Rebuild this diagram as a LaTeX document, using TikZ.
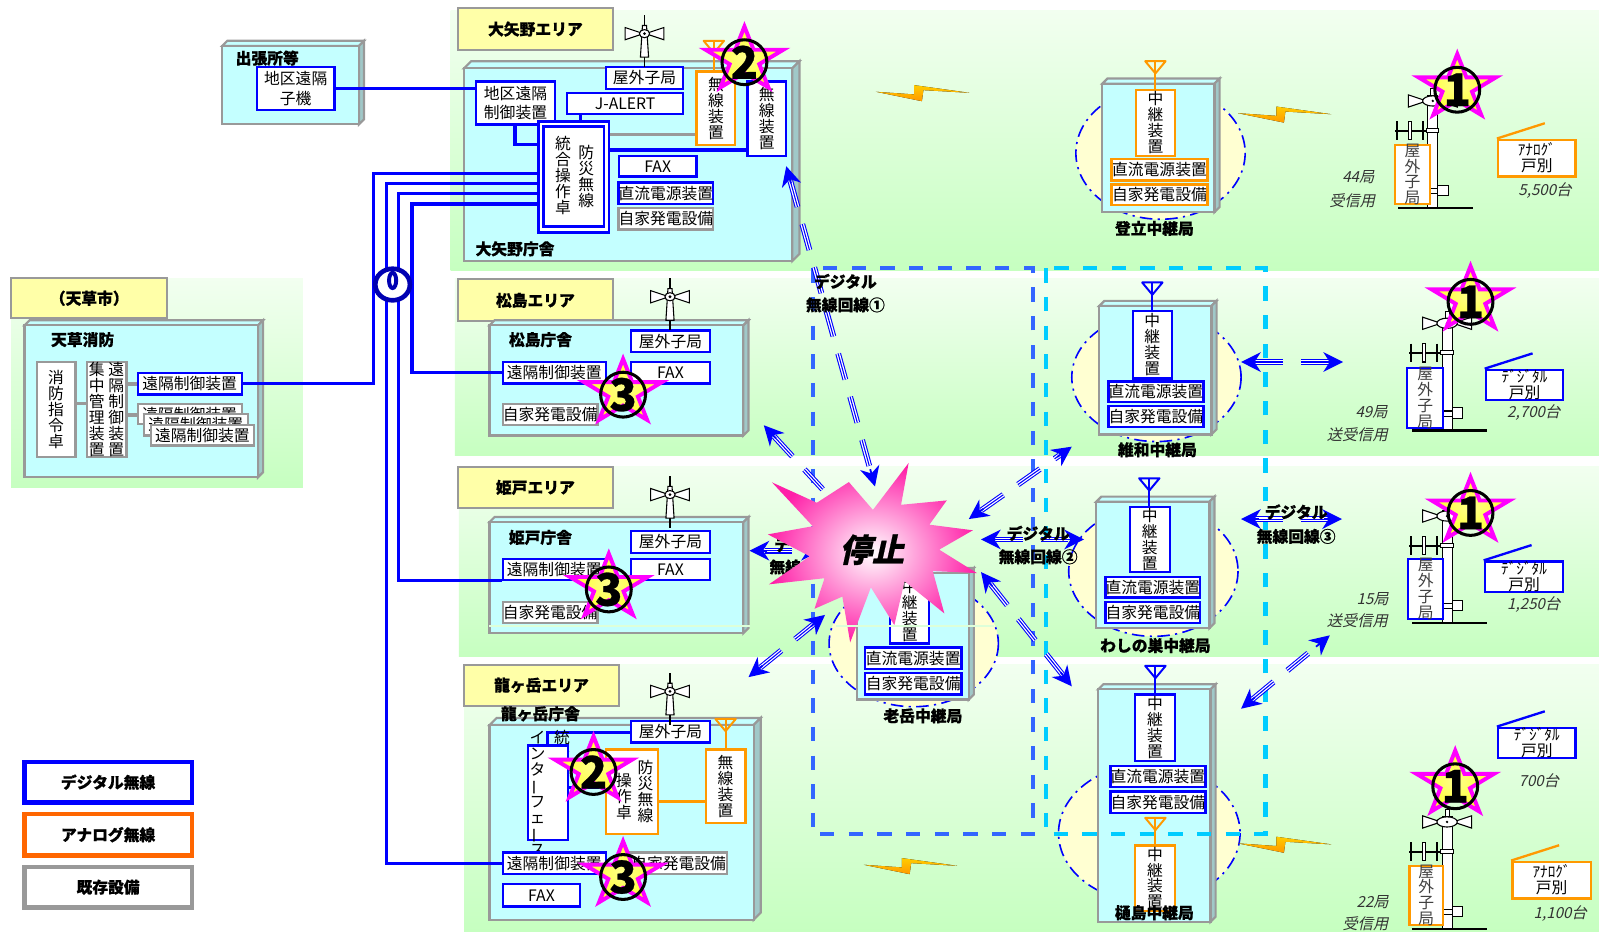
\documentclass[tikz,border=0pt]{standalone}
\usepackage{fontspec}
\usepackage{graphicx}
\setmainfont{Noto Sans CJK JP}
\newfontfamily\slantfont[FakeSlant=0.22]{Noto Sans CJK JP}
\newfontfamily\heavyfont[BoldFeatures={FakeBold=0.6}]{Noto Sans CJK JP}
\newfontfamily\heavyslant[FakeSlant=0.22,BoldFeatures={FakeBold=0.6}]{Noto Sans CJK JP}
\usetikzlibrary{arrows.meta,calc,shapes.geometric}
\definecolor{linkblue}{HTML}{0000FF}
\definecolor{anaorange}{HTML}{FF9900}
\definecolor{legendorange}{HTML}{FF6600}
\definecolor{oldgray}{HTML}{999999}
\definecolor{hallcyan}{HTML}{C4FFFF}
\definecolor{sidecyan}{HTML}{A0C8C8}
\definecolor{paneltop}{HTML}{F2FFF0}
\definecolor{panelbottom}{HTML}{C6FFC0}
\definecolor{tagyellow}{HTML}{FFFFA8}
\definecolor{zonecream}{HTML}{FFFFD2}
\definecolor{burstpink}{HTML}{FF20A8}
\definecolor{dashblue}{HTML}{3366FF}
\definecolor{dashcyan}{HTML}{00CCFF}
\definecolor{starpink}{HTML}{FF00FF}
\newcommand\boxfont{\fontsize{8.8}{8.9}\selectfont}
\tikzset{
  panel/.style={top color=paneltop, bottom color=panelbottom, draw=none},
  tagbox/.style={draw=oldgray, line width=1.2pt, fill=tagyellow, inner sep=0pt, font=\boxfont\heavyfont\bfseries},
  head/.style={font=\boxfont\heavyfont\bfseries, inner sep=0pt},
  bluebox/.style={draw=linkblue, line width=1.3pt, fill=white, inner sep=0pt, align=center, font=\boxfont},
  orangebox/.style={draw=anaorange, line width=1.3pt, fill=white, inner sep=0pt, align=center, font=\boxfont},
  graybox/.style={draw=oldgray, line width=1.3pt, fill=white, inner sep=0pt, align=center, font=\boxfont},
  vtext/.style={inner sep=0pt, align=center, font=\boxfont},
  digline/.style={draw=linkblue, line width=1.8pt},
  oldline/.style={draw=oldgray, line width=1.8pt},
  analine/.style={draw=anaorange, line width=1.8pt},
  zone/.style={draw=linkblue, fill=zonecream, line width=0.9pt, dash pattern=on 7pt off 3pt on 1.2pt off 3pt},
  radioline/.style={draw=linkblue, line width=3.2pt, dash pattern=on 15pt off 10pt,
    postaction={draw=white, line width=2pt}, postaction={draw=linkblue, line width=0.6pt}},
  radiotip/.style={draw=linkblue, line width=1pt, -{Stealth[length=11pt, width=11pt, inset=3.5pt]}},
  areadash/.style={line width=2.3pt, dash pattern=on 8pt off 8pt},
  badgestar/.style={draw=starpink, line width=2.2pt, inner color=white!55!yellow, outer color=yellow!85!white},
  badgering/.style={circle, draw=black, line width=1.7pt, minimum size=0.88cm, inner sep=0pt, font=\fontsize{25}{25}\selectfont\heavyfont\bfseries},
  count/.style={inner sep=0pt, align=center, font=\fontsize{8.5}{12.5}\selectfont\slantfont, text=black!80},
}
% box given by its corners, in picture units
\newcommand\partbox[7][]{%
  \pgfmathsetmacro\boxw{(#5-#3)*0.02}\pgfmathsetmacro\boxh{(#6-#4)*0.02}%
  \node[#1, minimum width=\boxw cm, minimum height=\boxh cm] (#2) at ({(#3+#5)/2},{(#4+#6)/2}) {#7};}
% hall with bevelled top and right side
\newcommand\bevelhall[5]{%
  \filldraw[draw=oldgray, line width=1.2pt, fill=hallcyan] (#1,{#2+#5}) -- ({#1+#5},#2) -- (#3,#2) -- ({#3-#5},{#2+#5}) -- cycle;
  \filldraw[draw=oldgray, line width=1.2pt, fill=sidecyan] ({#3-#5},{#2+#5}) -- (#3,#2) -- (#3,{#4-#5}) -- ({#3-#5},#4) -- cycle;
  \filldraw[draw=oldgray, line width=1.2pt, fill=hallcyan] (#1,{#2+#5}) rectangle ({#3-#5},#4);}
\newcommand\antenna[4]{%
  \draw[#1, line width=1.1pt] (#2,#3) -- (#2,#3 |- #4.north);
  \draw[#1, line width=1.1pt, line join=round] ({#2-10},#3) -- ({#2+10},#3) -- (#2,{#3+12}) -- cycle;}
\newcommand\hornmast[2]{%
  \begin{scope}[shift={(#1,#2)}, line width=0.6pt]
    \draw (0,-18) -- (0,33);
    \filldraw[fill=white] (-2,-8) -- (2,-8) -- (4,23) -- (-4,23) -- cycle;
    \filldraw[fill=white] (-19,-6) -- (-4,-1) -- (-4,1) -- (-19,6) -- cycle;
    \filldraw[fill=white] (19,-6) -- (4,-1) -- (4,1) -- (19,6) -- cycle;
    \filldraw[fill=white] (0,0) ellipse (5 and 4);
    \fill (0,0) circle (1.5);
  \end{scope}}
\newcommand\polemast[2]{%
  \begin{scope}[shift={(#1,#2)}]
    \filldraw[fill=white, line width=0.5pt] (-2,-117) rectangle (2,-110);
    \filldraw[fill=white, line width=0.5pt] (-5,-110) rectangle (5,0);
    \filldraw[fill=white, line width=0.6pt] (-24,-111) -- (-9,-106) -- (-9,-104) -- (-24,-99) -- cycle;
    \filldraw[fill=white, line width=0.6pt] (24,-111) -- (9,-106) -- (9,-104) -- (24,-99) -- cycle;
    \filldraw[fill=white, line width=0.6pt] (0,-105) ellipse (10 and 5);
    \fill (0,-105) circle (1.3);
    \draw[line width=1.1pt] (-37,-76) -- (-5,-76);
    \draw[line width=1.1pt] (-35,-85) -- (-35,-67);
    \draw[line width=1.1pt] (-10,-85) -- (-10,-67);
    \filldraw[fill=white, line width=0.6pt] (-24,-85) rectangle (-21,-67);
    \filldraw[fill=white, line width=0.6pt] (-6,-78) rectangle (6,-74);
    \filldraw[fill=white, line width=0.6pt] (5,-22) rectangle (15,-12);
    \filldraw[fill=white, line width=0.6pt] (-4,-19) rectangle (5,-14);
    \draw[line width=1.5pt] (-34,0) -- (39,0);
  \end{scope}}
\newcommand\polebox[6]{%
  \partbox[#1]{#2}{#3}{#4}{#5}{#6}{}
  \node[vtext, text=black!75] at (#2) {屋\\外\\子\\局};}
\newcommand\homebox[7]{%
  \partbox[#1]{#2}{#3}{#4}{#5}{#6}{\fontsize{8.5}{10.2}\selectfont #7}
  \draw[#1, fill=none] (#2.north west) -- ++(47,-15);}
\newcommand\bolt[2]{%
  \fill[top color=yellow!60!orange, bottom color=anaorange, shift={(#1,#2)}] (0,0) -- (37.5,2.6) -- (37.5,-6.5) -- (91.5,1) -- (46.5,-1.6) -- (45,9.2) -- cycle;}
\newcommand\radiolink[2]{%
  \path[radioline] ($(#1)!0.3cm!(#2)$) -- ($(#2)!0.3cm!(#1)$);
  \draw[radiotip] ($(#1)!0.35cm!(#2)$) -- (#1);
  \draw[radiotip] ($(#2)!0.35cm!(#1)$) -- (#2);}
\newcommand\starbadge[4]{%
  \shadedraw[badgestar, miter limit=6, shift={(#2,{#3-2})}, xscale=40, yscale=-33]
    (0,1) -- (.2245,.309) -- (.951,.309) -- (.363,-.118) -- (.588,-.809) -- (0,-.382)
    -- (-.588,-.809) -- (-.363,-.118) -- (-.951,.309) -- (-.2245,.309) -- cycle;
  \node[badgering] (#1) at (#2,#3) {#4};}
\begin{document}
\begin{tikzpicture}[x=0.02cm, y=-0.02cm]
  \useasboundingbox (0,0) rectangle (1568,913);
  \fill[white] (0,0) rectangle (1568,913);
  % area panels
  \path[panel] (11,273) rectangle (297,478);
  \path[panel] (442,10) rectangle (1568,265);
  \path[panel] (446,273) rectangle (1568,447);
  \path[panel] (450,457) rectangle (1568,644);
  \path[panel] (455,652) rectangle (1568,913);
  \partbox[tagbox]{tagAmakusa}{11}{273}{164}{312}{（天草市）}
  \partbox[tagbox]{tagOyano}{449}{8}{601}{49}{大矢野エリア}
  \partbox[tagbox]{tagMatsushima}{449}{274}{601}{315}{松島エリア}
  \partbox[tagbox]{tagHimedo}{449}{458}{601}{498}{姫戸エリア}
  \partbox[tagbox]{tagRyugatake}{455}{652}{607}{692}{龍ヶ岳エリア}
  % relay zones
  \draw[zone] (1138,150) ellipse (83 and 65);
  \draw[zone] (1134,370) ellipse (83 and 63);
  \draw[zone] (1131,560) ellipse (83 and 64);
  \draw[zone] (896,631) ellipse (83 and 62);
  \draw[zone] (1127,817) ellipse (89 and 68);
  % halls
  \bevelhall{218}{40}{357}{122}{5}
  \bevelhall{455}{60}{784}{256}{7}
  \bevelhall{24}{314}{258}{468}{5}
  \bevelhall{480}{314}{734}{427}{5}
  \bevelhall{480}{507}{734}{621}{5}
  \bevelhall{480}{704}{746}{902}{7}
  \bevelhall{1081}{77}{1196}{208}{5}
  \bevelhall{1078}{295}{1193}{426}{5}
  \bevelhall{1075}{487}{1191}{616}{5}
  \bevelhall{840}{557}{955}{686}{5}
  \bevelhall{1077}{671}{1192}{904}{5}
  % branch office
  \node[head] (labBranch) at (262,57) {出張所等};
  \partbox[bluebox]{branchUnit}{252}{66}{328}{108}{地区遠隔\\[2pt]子機}
  % Oyano hall
  \node[head] (labOyano) at (505,244) {大矢野庁舎};
  \partbox[bluebox]{oyOutdoor}{594}{66}{670}{87}{屋外子局}
  \partbox[bluebox]{oyDistrict}{467}{80}{544}{122}{地区遠隔\\[2pt]制御装置}
  \partbox[bluebox]{oyAlert}{556}{91}{670}{112}{J-ALERT}
  \partbox[orangebox]{oyRadioA}{683}{70}{721}{142}{無\\線\\装\\置}
  \partbox[bluebox]{oyRadioD}{733}{80}{771}{153}{無\\線\\装\\置}
  \partbox[bluebox]{oyConsole}{528}{119}{597}{228}{}
  \partbox[bluebox]{oyConsoleIn}{533}{124}{592}{222}{}
  \node[vtext] (oyTextA) at (552,172) {統\\合\\操\\作\\卓};
  \node[vtext] (oyTextB) at (575,173) {防\\災\\無\\線};
  \partbox[bluebox]{oyFax}{607}{153}{683}{173}{FAX}
  \partbox[bluebox]{oyPower}{607}{179}{699}{200}{直流電源装置}
  \partbox[graybox]{oyEngine}{607}{204}{699}{225}{自家発電設備}
  \antenna{anaorange}{700}{40}{oyRadioA}
  \hornmast{632}{33}
  % Amakusa fire station
  \node[head] (labFire) at (81,333) {天草消防};
  \partbox[graybox]{fireDesk}{36}{355}{74}{448}{}
  \node[vtext] at (fireDesk) {消\\防\\指\\令\\卓};
  \partbox[graybox]{fireHub}{85}{355}{124}{448}{}
  \node[vtext] at (95,401.5) {集\\中\\管\\理\\装\\置};
  \node[vtext] at (114,401.5) {遠\\隔\\制\\御\\装\\置};
  \partbox[bluebox]{fireRemote}{135}{366}{237}{387}{遠隔制御装置}
  \partbox[graybox]{fireRemoteA}{135}{396}{237}{416}{遠隔制御装置}
  \partbox[graybox]{fireRemoteB}{141}{406}{243}{427}{遠隔制御装置}
  \partbox[graybox]{fireRemoteC}{148}{417}{249}{437}{遠隔制御装置}
  \draw[oldline] (fireDesk.east |- 0,396) -- (fireHub.west |- 0,396);
  \draw[oldline] (fireHub.east |- fireRemote.west) -- (fireRemote.west);
  \draw[oldline] (fireHub.east |- 0,407) -- (fireRemoteA.west |- 0,407);
  % Matsushima hall
  \node[head] (labMatsushima) at (530,333) {松島庁舎};
  \partbox[bluebox]{maOutdoor}{619}{324}{696}{345}{屋外子局}
  \partbox[bluebox]{maRemote}{493}{355}{594}{376}{遠隔制御装置}
  \partbox[bluebox]{maFax}{619}{355}{696}{376}{FAX}
  \partbox[graybox]{maEngine}{493}{396}{586}{417}{自家発電設備}
  \hornmast{657}{291}
  % Himedo hall
  \node[head] (labHimedo) at (530,527) {姫戸庁舎};
  \partbox[bluebox]{hiOutdoor}{619}{521}{696}{542}{屋外子局}
  \partbox[bluebox]{hiRemote}{493}{548}{594}{569}{遠隔制御装置}
  \partbox[bluebox]{hiFax}{619}{548}{696}{569}{FAX}
  \partbox[graybox]{hiEngine}{493}{590}{586}{611}{自家発電設備}
  \hornmast{657}{485}
  % Ryugatake hall
  \node[head] (labRyugatake) at (530,700) {龍ヶ岳庁舎};
  \partbox[bluebox]{ryOutdoor}{619}{707}{696}{728}{屋外子局}
  \partbox[orangebox]{ryRadio}{692}{735}{731}{807}{無\\線\\装\\置}
  \partbox[orangebox]{ryConsole}{594}{735}{645}{818}{}
  \node[vtext] (ryTextA) at (612,781) {操\\作\\卓};
  \node[vtext] (ryTextB) at (633,776) {防\\災\\無\\線};
  \draw[digline] (ryOutdoor.west |- 0,718) -- (537,718) -- (537,731);
  \node[vtext] (ryTextC) at (551,731) {統\\合};
  \draw[digline] (557,772) -- (ryConsole.west |- 0,772);
  \partbox[bluebox]{ryIface}{518}{731}{557}{824}{}
  \node[vtext] (ryTextD) at (527,778) {イ\\ン\\タ\\\rotatebox[origin=c]{90}{ー}\\フ\\ェ\\\rotatebox[origin=c]{90}{ー}\\ス};
  \partbox[bluebox]{ryRemote}{493}{836}{594}{857}{遠隔制御装置}
  \partbox[graybox]{ryEngine}{618}{836}{713}{857}{自家発電設備}
  \partbox[bluebox]{ryFax}{493}{867}{569}{889}{FAX}
  \antenna{anaorange}{711.5}{705}{ryRadio}
  \draw[analine] (ryConsole.east |- 0,786) -- (ryRadio.west |- 0,786);
  \hornmast{657}{678}
  % relay stations
  \partbox[orangebox]{noRelay}{1114}{88}{1152}{153}{中\\継\\装\\置}
  \partbox[orangebox]{noPower}{1090}{156}{1184}{177}{直流電源装置}
  \partbox[orangebox]{noEngine}{1090}{181}{1184}{201}{自家発電設備}
  \antenna{anaorange}{1133}{60}{noRelay}
  \node[head] (labNobori) at (1132,224) {登立中継局};
  \partbox[bluebox]{iwRelay}{1111}{305}{1149}{371}{中\\継\\装\\置}
  \partbox[bluebox]{iwPower}{1087}{374}{1180}{394}{直流電源装置}
  \partbox[bluebox]{iwEngine}{1087}{398}{1180}{419}{自家発電設備}
  \antenna{linkblue}{1130}{277}{iwRelay}
  \node[head] (labIwa) at (1135,441) {維和中継局};
  \partbox[bluebox]{waRelay}{1108}{497}{1147}{561}{中\\継\\装\\置}
  \partbox[bluebox]{waPower}{1084}{566}{1177}{586}{直流電源装置}
  \partbox[bluebox]{waEngine}{1084}{590}{1177}{611}{自家発電設備}
  \antenna{linkblue}{1127}{469}{waRelay}
  \node[head] (labWashi) at (1133,633) {わしの巣中継局};
  \partbox[bluebox]{oiRelay}{873}{566}{911}{631}{中\\継\\装\\置}
  \partbox[bluebox]{oiPower}{848}{635}{943}{656}{直流電源装置}
  \partbox[bluebox]{oiEngine}{848}{660}{943}{681}{自家発電設備}
  \node[head] (labOi) at (905,702) {老岳中継局};
  \partbox[bluebox]{hiRelayD}{1113}{681}{1152}{746}{中\\継\\装\\置}
  \partbox[bluebox]{hiPowerD}{1089}{751}{1182}{772}{直流電源装置}
  \partbox[bluebox]{hiEngineD}{1089}{776}{1182}{797}{自家発電設備}
  \antenna{linkblue}{1133}{653}{hiRelayD}
  \partbox[orangebox]{hiRelayA}{1113}{829}{1152}{893}{中\\継\\装\\置}
  \antenna{anaorange}{1133}{802}{hiRelayA}
  \node[head] (labHi) at (1132,895) {樋島中継局};
  % wired lines
  \draw[digline] (branchUnit.east) -- (oyDistrict.west |- branchUnit.east);
  \draw[digline] (505,122) -- (505,142) -- (oyConsole.west |- 0,142);
  \draw[digline] (569,112) -- (569,119);
  \draw[oldline] (oyConsole.east |- 0,132) -- (oyRadioA.west |- 0,132);
  \draw[digline] (oyConsole.east |- 0,147) -- (oyRadioD.west |- 0,147);
  \draw[digline] (oyConsole.west |- 0,170) -- (366,170) -- (366,376) -- (fireRemote.east |- 0,376);
  \draw[digline] (oyConsole.west |- 0,180) -- (379,180) -- (379,847) -- (ryRemote.west |- 0,847);
  \draw[digline] (oyConsole.west |- 0,190) -- (391,190) -- (391,569) -- (hiRemote.west |- 0,569);
  \draw[digline] (oyConsole.west |- 0,200) -- (404,200) -- (404,365) -- (maRemote.west |- 0,365);
  \node[ellipse, draw=blue!70!black, fill=white, line width=2.6pt, minimum width=0.68cm, minimum height=0.62cm, inner sep=0pt] (bundle) at (385,279) {};
  \node[ellipse, draw=blue!70!black, line width=2.2pt, minimum width=0.14cm, minimum height=0.3cm, inner sep=0pt] (bundleIn) at (385,275) {};
  % dashed service areas
  \draw[areadash, draw=dashblue] (797,263) rectangle (1013,818);
  \draw[areadash, draw=dashcyan] (1026,263) rectangle (1241,818);
  % bolts
  \bolt{859}{90}
  \bolt{1214}{111}
  \bolt{847}{848}
  \bolt{1214}{827}
  % radio links
  \coordinate (linkAa) at (771,163);   \coordinate (linkAb) at (858,477);
  \coordinate (linkBa) at (749,417);   \coordinate (linkBb) at (828,503);
  \coordinate (linkCa) at (734,664);   \coordinate (linkCb) at (809,603);
  \coordinate (linkDa) at (735,540);   \coordinate (linkDb) at (805,540);
  \coordinate (linkEa) at (962,529);   \coordinate (linkEb) at (1063,529);
  \coordinate (linkFa) at (950,509);   \coordinate (linkFb) at (1051,438);
  \coordinate (linkGa) at (1217,355);  \coordinate (linkGb) at (1317,355);
  \coordinate (linkHa) at (1217,509);  \coordinate (linkHb) at (1316,509);
  \coordinate (linkIa) at (1217,695);  \coordinate (linkIb) at (1304,623);
  \coordinate (linkJa) at (962,561);   \coordinate (linkJb) at (1051,673);
  \radiolink{linkAa}{linkAb}
  \radiolink{linkBa}{linkBb}
  \radiolink{linkCa}{linkCb}
  \radiolink{linkDa}{linkDb}
  \radiolink{linkEa}{linkEb}
  \radiolink{linkFa}{linkFb}
  \radiolink{linkGa}{linkGb}
  \radiolink{linkHa}{linkHb}
  \radiolink{linkIa}{linkIb}
  \radiolink{linkJa}{linkJb}
  % link labels
  \node[head] (labLinkA) at (829,276) {デジタル};
  \node[head] (labLinkB) at (829,299) {無線回線①};
  \node[head] (labLinkC) at (1018,523) {デジタル};
  \node[head] (labLinkD) at (1018,546) {無線回線②};
  \node[head] (labLinkE) at (1271,502) {デジタル};
  \node[head] (labLinkF) at (1271,526) {無線回線③};
  \node[head] (labLinkG) at (767,534) {デ};
  \node[head] (labLinkH) at (770,556) {無線};
  % outage burst
  \shade[inner color=white, outer color=burstpink]
    (757,473) -- (801,493) -- (832.4,472.7) -- (856,500) -- (891,454) -- (883.6,495)
    -- (928.4,490.7) -- (911.4,514.5) -- (954,520) -- (921,539) -- (958,562) -- (914.7,560)
    -- (926,601.5) -- (887,570) -- (877,613) -- (854,576) -- (833.7,630) -- (826,585)
    -- (798.7,597) -- (808.5,567) -- (754,573) -- (794,545.5) -- (753,524) -- (797,516) -- cycle;
  \node[inner sep=0pt, font=\fontsize{18}{18}\selectfont\heavyslant\bfseries] (labStop) at (855,539) {停止};
  \draw[panelbottom!60!white, line width=0.8pt] (480,614) -- (735,614);
  \draw[panelbottom!60!white, line width=0.8pt] (820,614) -- (975,614);
  % outdoor poles
  \polemast{1405}{204}
  \polemast{1419}{422}
  \polemast{1419}{611}
  \polemast{1419}{911}
  \polebox{orangebox}{poleNobori}{1368}{142}{1402}{200}
  \polebox{bluebox}{poleIwa}{1380}{361}{1415}{420}
  \polebox{bluebox}{poleWashi}{1381}{548}{1415}{607}
  \polebox{orangebox}{poleHi}{1382}{849}{1415}{907}
  % home receivers
  \homebox{orangebox}{homeA}{1469}{137}{1545}{173}{ｱﾅﾛｸﾞ\\戸別}
  \homebox{bluebox}{homeB}{1457}{363}{1533}{392}{ﾃﾞｼﾞﾀﾙ\\戸別}
  \homebox{bluebox}{homeC}{1456}{551}{1533}{580}{ﾃﾞｼﾞﾀﾙ\\戸別}
  \homebox{bluebox}{homeD}{1469}{714}{1545}{743}{ﾃﾞｼﾞﾀﾙ\\戸別}
  \homebox{orangebox}{homeE}{1483}{845}{1560}{881}{ｱﾅﾛｸﾞ\\戸別}
  % counts
  \node[count] (cntA) at (1515,187) {5,500台};
  \node[count] (cntB) at (1504,405) {2,700台};
  \node[count] (cntC) at (1504,593) {1,250台};
  \node[count] (cntD) at (1509,766) {700台};
  \node[count] (cntE) at (1530,896) {1,100台};
  \node[count] (stnA) at (1332,174) {44局};
  \node[count] (useA) at (1326,197) {受信用};
  \node[count] (stnB) at (1345,404) {49局};
  \node[count] (useB) at (1331,426) {送受信用};
  \node[count] (stnC) at (1346,587) {15局};
  \node[count] (useC) at (1331,609) {送受信用};
  \node[count] (stnD) at (1346,885) {22局};
  \node[count] (useD) at (1339,906) {受信用};
  % badges
  \starbadge{oneA}{1429}{88}{1}
  \starbadge{oneB}{1442}{296}{1}
  \starbadge{oneC}{1442}{503}{1}
  \starbadge{oneD}{1427}{771}{1}
  \starbadge{twoA}{730}{61}{2}
  \starbadge{twoB}{582}{757}{2}
  \starbadge{threeA}{611}{387}{3}
  \starbadge{threeB}{597}{578}{3}
  \starbadge{threeC}{611}{860}{3}
  % legend
  \partbox[draw=linkblue, line width=2.4pt, fill=white, inner sep=0pt, font=\boxfont\heavyfont\bfseries]{legDigital}{24}{747}{188}{787}{デジタル無線}
  \partbox[draw=legendorange, line width=2.4pt, fill=white, inner sep=0pt, font=\boxfont\heavyfont\bfseries]{legAnalog}{24}{798}{188}{839}{アナログ無線}
  \partbox[draw=oldgray, line width=2.4pt, fill=white, inner sep=0pt, font=\boxfont\heavyfont\bfseries]{legOld}{24}{850}{188}{890}{既存設備}
\end{tikzpicture}
\end{document}
